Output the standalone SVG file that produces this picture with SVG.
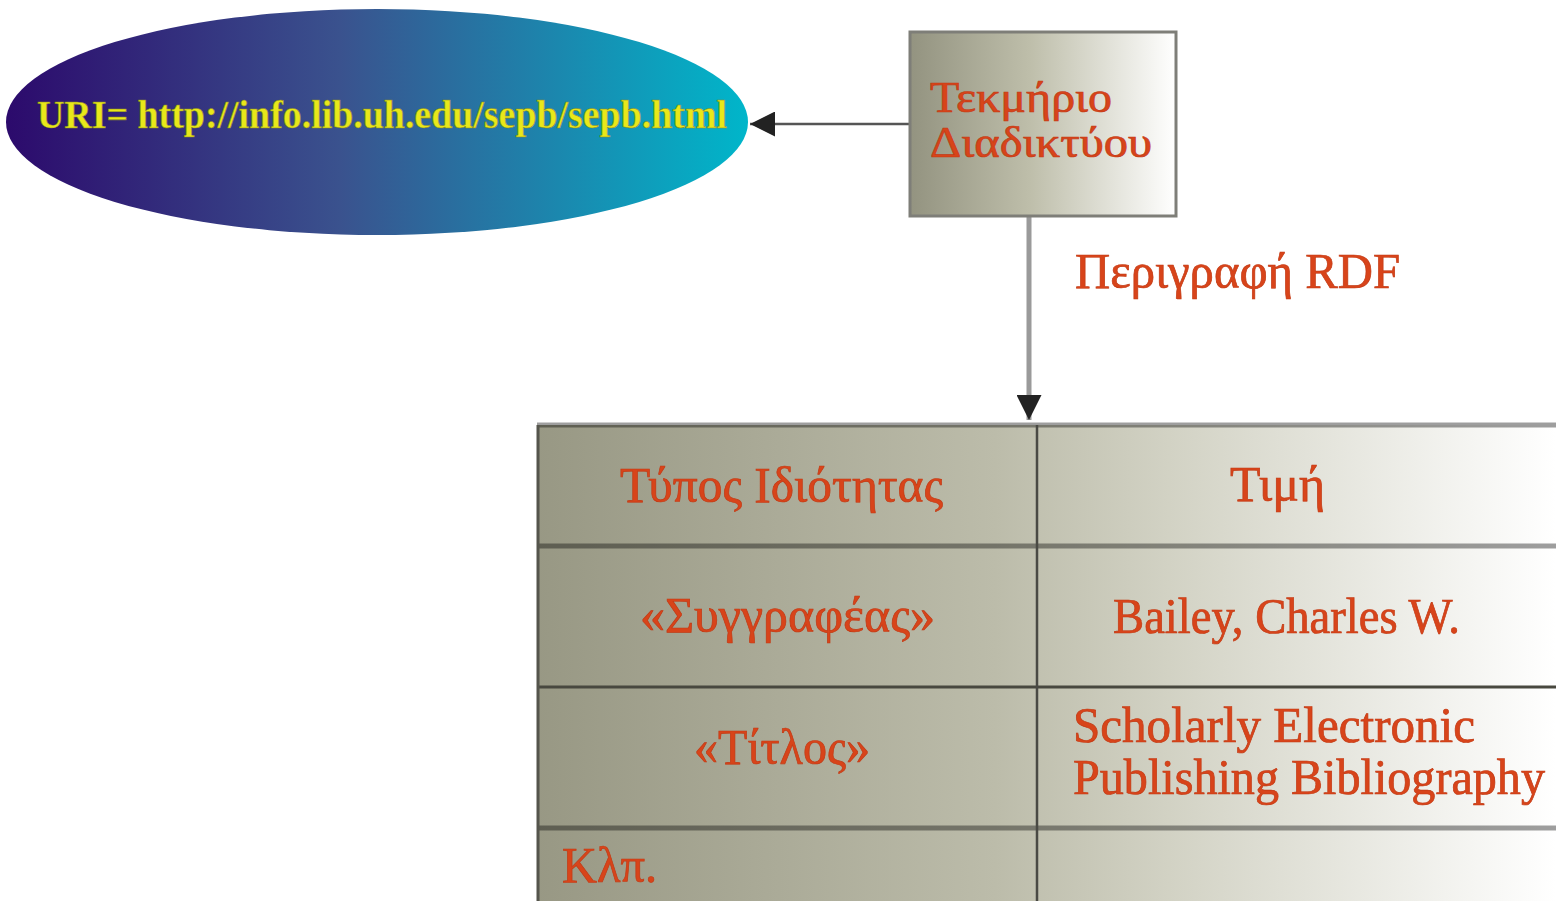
<svg xmlns="http://www.w3.org/2000/svg" width="1556" height="901" viewBox="0 0 1556 901">
  <defs>
    <linearGradient id="gEll" x1="0" y1="0" x2="1" y2="0">
      <stop offset="0" stop-color="#2c0a6c"/>
      <stop offset="0.45" stop-color="#3a528e"/>
      <stop offset="1" stop-color="#00b6ca"/>
    </linearGradient>
    <linearGradient id="gBox" x1="0" y1="0" x2="1" y2="0">
      <stop offset="0" stop-color="#939380"/>
      <stop offset="0.45" stop-color="#bebeaa"/>
      <stop offset="1" stop-color="#ffffff"/>
    </linearGradient>
    <linearGradient id="gTab" gradientUnits="userSpaceOnUse" x1="537" y1="0" x2="1556" y2="0">
      <stop offset="0" stop-color="#989884"/>
      <stop offset="0.45" stop-color="#bcbcaa"/>
      <stop offset="0.62" stop-color="#d2d2c4"/>
      <stop offset="1" stop-color="#ffffff"/>
    </linearGradient>
    <marker id="ah" viewBox="0 0 10 10" refX="10" refY="5" markerWidth="25" markerHeight="25" markerUnits="userSpaceOnUse" orient="auto">
      <path d="M0,0 L10,5 L0,10 Z" fill="#222"/>
    </marker>
  </defs>
  <style>
    .red { fill: #d8441a; stroke: #c23a14; stroke-width: 0.7; font-family: "Liberation Serif", "DejaVu Serif", serif; }
    .tab { font-size: 50px; }
    .rule { stroke: #000; stroke-opacity: 0.38; }
  </style>
  <rect width="1556" height="901" fill="#ffffff"/>

  <g id="connectors">
    <line x1="910" y1="124" x2="750" y2="124" stroke="#555" stroke-width="2.5" marker-end="url(#ah)"/>
    <line x1="1029" y1="217" x2="1029" y2="420" stroke="#9a9a9a" stroke-width="5" marker-end="url(#ah)"/>
    <text class="red" x="1075" y="288" font-size="50" textLength="325" lengthAdjust="spacingAndGlyphs">Περιγραφή RDF</text>
  </g>

  <g id="uri">
    <ellipse cx="377" cy="122" rx="371" ry="113" fill="url(#gEll)"/>
    <text x="37" y="128" font-family="Liberation Serif, serif" font-weight="bold" font-size="40" fill="#e8e81a" stroke="#8a8a20" stroke-width="0.6" textLength="690" lengthAdjust="spacingAndGlyphs">URI= http://info.lib.uh.edu/sepb/sepb.html</text>
  </g>

  <g id="resource">
    <rect x="910" y="32" width="266" height="184" fill="url(#gBox)" stroke="#7e7e78" stroke-width="3"/>
    <text class="red" x="930" y="112" font-size="44" textLength="182" lengthAdjust="spacingAndGlyphs">Τεκμήριο</text>
    <text class="red" x="930" y="157" font-size="44" textLength="222" lengthAdjust="spacingAndGlyphs">Διαδικτύου</text>
  </g>

  <g id="table">
    <rect x="537" y="425" width="1040" height="490" fill="url(#gTab)"/>
    <line class="rule" x1="537" y1="425" x2="1556" y2="425" stroke-width="5"/>
    <line class="rule" x1="537" y1="546" x2="1556" y2="546" stroke-width="5"/>
    <line x1="537" y1="687" x2="1556" y2="687" stroke="#48483f" stroke-width="3"/>
    <line class="rule" x1="537" y1="828" x2="1556" y2="828" stroke-width="5"/>
    <line x1="538" y1="425" x2="538" y2="901" stroke="#55554c" stroke-width="3"/>
    <line x1="1037" y1="425" x2="1037" y2="901" stroke="#4a4a44" stroke-width="2.5"/>

    <text class="red tab" x="620" y="502" textLength="323" lengthAdjust="spacingAndGlyphs">Τύπος Ιδιότητας</text>
    <text class="red tab" x="1230" y="501" textLength="95" lengthAdjust="spacingAndGlyphs">Τιμή</text>
    <text class="red tab" x="640" y="632" textLength="295" lengthAdjust="spacingAndGlyphs">«Συγγραφέας»</text>
    <text class="red tab" x="1113" y="633" textLength="347" lengthAdjust="spacingAndGlyphs">Bailey, Charles W.</text>
    <text class="red tab" x="694" y="764" textLength="176" lengthAdjust="spacingAndGlyphs">«Τίτλος»</text>
    <text class="red tab" x="1073" y="742" textLength="402" lengthAdjust="spacingAndGlyphs">Scholarly Electronic</text>
    <text class="red tab" x="1073" y="794" textLength="472" lengthAdjust="spacingAndGlyphs">Publishing Bibliography</text>
    <text class="red tab" x="562" y="882" textLength="95" lengthAdjust="spacingAndGlyphs">Κλπ.</text>
  </g>
</svg>
